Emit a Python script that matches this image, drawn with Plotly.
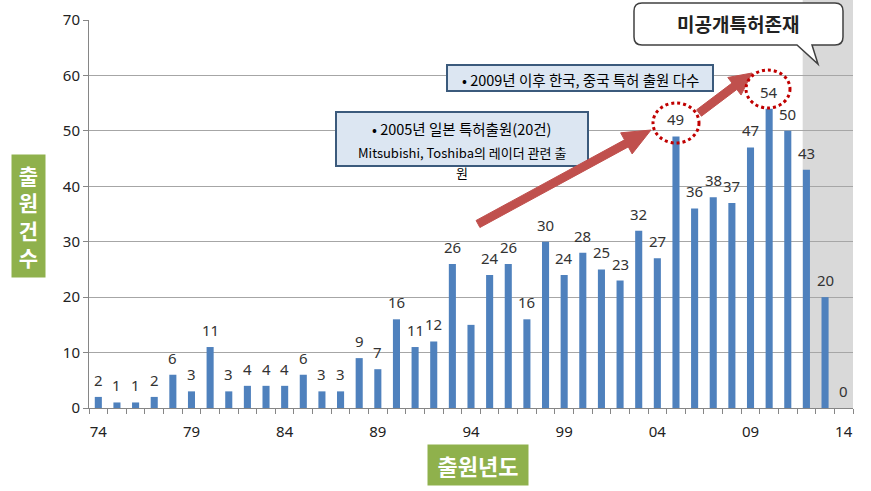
import math
import plotly.graph_objects as go

# ---------------- data ----------------
years = list(range(1974, 2015))
counts = [2, 1, 1, 2, 6, 3, 11, 3, 4, 4,
          4, 6, 3, 3, 9, 7, 16, 11, 12, 26,
          15, 24, 26, 16, 30, 24, 28, 25, 23, 32,
          27, 49, 36, 38, 37, 47, 54, 50, 43, 20,
          0]
hidden_label_years = [1994]
tick_years = [1974, 1979, 1984, 1989, 1994, 1999, 2004, 2009, 2014]
tick_text = ["74", "79", "84", "89", "94", "99", "04", "09", "14"]
unpublished_from = 2012  # grey "unpublished" region starts here

# ---------------- layout helpers (pixel -> paper) ----------------
W, H = 871, 491
PL, PR, PT, PB = 89, 853, 20, 408


def P(x, y):
    return ((x - PL) / (PR - PL), (PB - y) / (PB - PT))


def Pp(x, y):
    a, b = P(x, y)
    return f"{a:.5f},{b:.5f}"


def path_from_px(points):
    return " ".join(("M" if i == 0 else "L") + Pp(x, y)
                    for i, (x, y) in enumerate(points)) + " Z"


def arrow_points(x0, y0, x1, y1, shaft, head_len, head_w):
    dx, dy = x1 - x0, y1 - y0
    L = math.hypot(dx, dy)
    ux, uy = dx / L, dy / L
    nx, ny = -uy, ux
    bx, by = x1 - ux * head_len, y1 - uy * head_len
    s, h = shaft / 2, head_w / 2
    return [(x0 + nx * s, y0 + ny * s), (bx + nx * s, by + ny * s),
            (bx + nx * h, by + ny * h), (x1, y1),
            (bx - nx * h, by - ny * h), (bx - nx * s, by - ny * s),
            (x0 - nx * s, y0 - ny * s)]


BAR = "#4f81bd"
GRID = "#a6a6a6"
AXIS = "#868686"
GREEN = "#8fb14c"
RED = "#c0504d"
NUMFONT = "Noto Sans"
KFONT = "Noto Sans CJK KR"

fig = go.Figure()
fig.add_trace(go.Bar(x=years, y=counts, width=0.38, marker_color=BAR,
                     marker_line_width=0, hoverinfo="x+y"))

annotations = []
# data labels
for yr, v in zip(years, counts):
    if yr in hidden_label_years:
        continue
    annotations.append(dict(x=yr, y=v, xref="x", yref="y", text=str(v),
                            showarrow=False, yanchor="bottom", yshift=5,
                            font=dict(family=NUMFONT, size=15, color="#333333")))


def ann_px(x, y, text, size, color="#000000", family=KFONT, **kw):
    px, py = P(x, y)
    d = dict(x=px, y=py, xref="paper", yref="paper", text=text, showarrow=False,
             xanchor="center", yanchor="middle",
             font=dict(family=family, size=size, color=color))
    d.update(kw)
    annotations.append(d)


# axis titles in green boxes
ann_px(28.5, 216, "<b>출<br>원<br>건<br>수</b>", 21, color="white",
       bgcolor=GREEN, width=33, height=122, borderpad=0)
ann_px(478, 465, "<b>출원년도</b>", 22, color="white",
       bgcolor=GREEN, width=100, height=40, borderpad=0)

# callout text
ann_px(738, 24, "<b>미공개특허존재</b>", 19, color="#222222")
# info boxes text
ann_px(580, 79, "• 2009년 이후 한국, 중국 특허 출원 다수", 14.5)
ann_px(461, 128, "• 2005년 일본 특허출원(20건)", 14.5)
ann_px(462, 152, "Mitsubishi, Toshiba의 레이더 관련 출", 13)
ann_px(462, 172, "원", 13)

shapes = []
# grey unpublished region (behind bars)
shapes.append(dict(type="rect", xref="x", yref="paper", x0=unpublished_from - 0.2,
                   x1=years[-1] + 0.5, y0=0, y1=P(0, 0)[1], fillcolor="#d9d9d9",
                   line_width=0, layer="below"))

# callout bubble
r = 8
x0, y0, x1, y1 = 634, 3, 843, 45
callout = (f"M{Pp(x0 + r, y0)} L{Pp(x1 - r, y0)} Q{Pp(x1, y0)} {Pp(x1, y0 + r)} "
           f"L{Pp(x1, y1 - r)} Q{Pp(x1, y1)} {Pp(x1 - r, y1)} "
           f"L{Pp(812, y1)} L{Pp(818, 64)} L{Pp(797, y1)} "
           f"L{Pp(x0 + r, y1)} Q{Pp(x0, y1)} {Pp(x0, y1 - r)} "
           f"L{Pp(x0, y0 + r)} Q{Pp(x0, y0)} {Pp(x0 + r, y0)} Z")
shapes.append(dict(type="path", xref="paper", yref="paper", path=callout,
                   fillcolor="white", line=dict(color="#404040", width=1.5)))

# info boxes
for (bx0, by0, bx1, by1) in [(447, 65, 713, 91), (336, 112, 588, 166)]:
    a0, b0 = P(bx0, by1)
    a1, b1 = P(bx1, by0)
    shapes.append(dict(type="rect", xref="paper", yref="paper", x0=a0, y0=b0,
                       x1=a1, y1=b1, fillcolor="#dce6f2",
                       line=dict(color="#3b5a7c", width=2), layer="above"))

# red arrows
shapes.append(dict(type="path", xref="paper", yref="paper",
                   path=path_from_px(arrow_points(478, 224, 651, 130, 8, 28, 24)),
                   fillcolor=RED, line=dict(color=RED, width=1)))
shapes.append(dict(type="path", xref="paper", yref="paper",
                   path=path_from_px(arrow_points(699, 113, 752, 73, 8, 22, 22)),
                   fillcolor=RED, line=dict(color=RED, width=1)))

# dotted circles
for (cx0, cy0, cx1, cy1) in [(653, 103, 699, 143), (746, 70, 790, 108)]:
    a0, b0 = P(cx0, cy1)
    a1, b1 = P(cx1, cy0)
    shapes.append(dict(type="circle", xref="paper", yref="paper", x0=a0, y0=b0,
                       x1=a1, y1=b1, line=dict(color="#c00000", width=3, dash="dot")))

fig.update_layout(
    width=W, height=H,
    margin=dict(l=PL, r=W - PR, t=PT, b=H - PB, autoexpand=False),
    paper_bgcolor="white", plot_bgcolor="white",
    showlegend=False,
    annotations=annotations, shapes=shapes,
    xaxis=dict(range=[years[0] - 0.5, years[-1] + 0.5], tickmode="array",
               tickvals=tick_years, ticktext=tick_text, ticks="",
               showgrid=False, zeroline=False, showline=True, linecolor=AXIS,
               linewidth=1, ticklabelstandoff=10, automargin=False,
               tickfont=dict(family=NUMFONT, size=15, color="#222222"),
               minor=dict(tick0=years[0] - 0.5, dtick=1, ticks="outside",
                          ticklen=5, tickcolor=AXIS, showgrid=False)),
    yaxis=dict(range=[0, 70], dtick=10, showgrid=True, gridcolor=GRID, gridwidth=1,
               zeroline=False, showline=True, linecolor=AXIS, linewidth=1,
               ticks="outside", ticklen=5, tickcolor=AXIS, automargin=False,
               tickfont=dict(family=NUMFONT, size=15, color="#222222")),
)

fig.write_html("out.html", config={"displayModeBar": False},
               post_script="document.body.style.margin='0';document.body.style.padding='0';")
